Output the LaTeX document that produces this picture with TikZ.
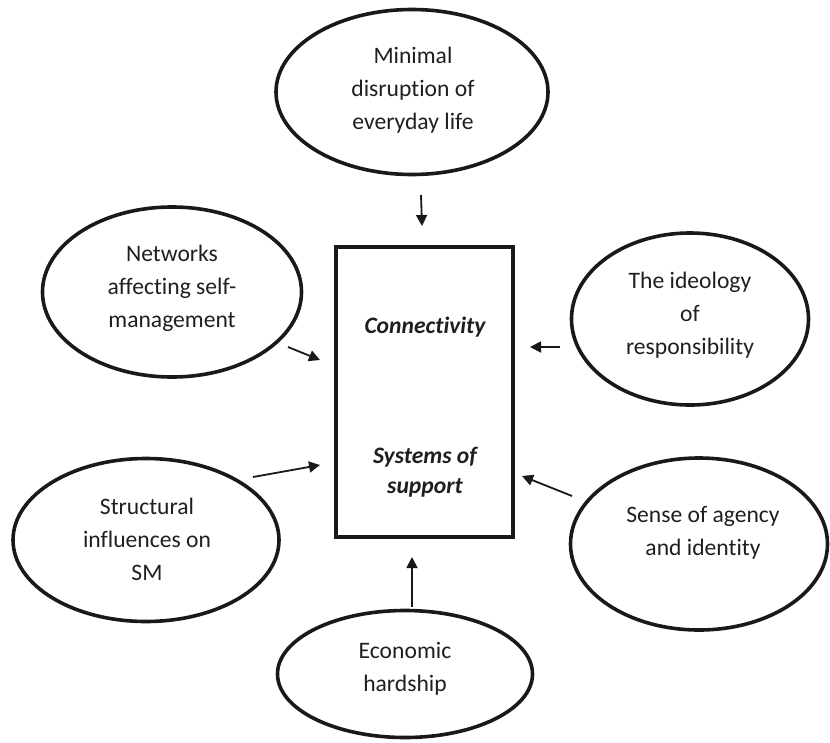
\documentclass[tikz,border=0pt]{standalone}
\usepackage{fontspec}
\setmainfont{Carlito}[Ligatures=NoCommon]
\usetikzlibrary{shapes.geometric,arrows.meta}
\begin{document}
\begin{tikzpicture}[x=1pt,y=-1pt,
  ell/.style={draw=black!90, ellipse, line width=3.6pt, inner sep=0pt},
  txt/.style={align=center, inner sep=0pt, font=\fontsize{23.6}{33}\selectfont, text=black!88},
  btxt/.style={txt, font=\fontsize{23.6}{30}\selectfont\bfseries\itshape},
  arr/.style={line width=1.8pt, draw=black!90, -{Triangle[length=11pt,width=11pt]}},
  boxst/.style={draw=black!90, line width=3.4pt, inner sep=0pt}]
\useasboundingbox (0,0) rectangle (830,742);

% central box
\node[boxst, minimum width=177, minimum height=290] (box) at (424.5,392) {};
\node[btxt] (conn) at (425,327) {Connectivity};
\node[btxt] (sys) at (425,472) {Systems of\\support};

% ellipses
\node[ell, minimum width=272, minimum height=165] (top) at (412,92) {};
\node[txt] (toptxt) at (413,90) {Minimal\\disruption of\\everyday life};

\node[ell, minimum width=259, minimum height=170] (net) at (172,292) {};
\node[txt] (nettxt) at (172,288) {Networks\\affecting self-\\management};

\node[ell, minimum width=237, minimum height=172] (ideo) at (690,319) {};
\node[txt] (ideotxt) at (690,315) {The ideology\\of\\responsibility};

\node[ell, minimum width=266, minimum height=163] (struct) at (146,540) {};
\node[txt] (structtxt) at (147,539) {Structural\\influences on\\SM};

\node[ell, minimum width=257, minimum height=172] (sense) at (699,544) {};
\node[txt] (sensetxt) at (703,533) {Sense of agency\\and identity};

\node[ell, minimum width=255, minimum height=127] (econ) at (405,674) {};
\node[txt] (econtxt) at (405,669) {Economic\\hardship};

% arrow end points
\coordinate (a1s) at (421,195); \coordinate (a1e) at (422,226);
\coordinate (a2s) at (288,347); \coordinate (a2e) at (320,360);
\coordinate (a3s) at (560,347); \coordinate (a3e) at (530,347);
\coordinate (a4s) at (253,477); \coordinate (a4e) at (320,465);
\coordinate (a5s) at (572,496); \coordinate (a5e) at (522,476);
\coordinate (a6s) at (412,607); \coordinate (a6e) at (412,557);

\draw[arr] (a1s) -- (a1e);
\draw[arr] (a2s) -- (a2e);
\draw[arr] (a3s) -- (a3e);
\draw[arr] (a4s) -- (a4e);
\draw[arr] (a5s) -- (a5e);
\draw[arr] (a6s) -- (a6e);
\end{tikzpicture}
\end{document}
